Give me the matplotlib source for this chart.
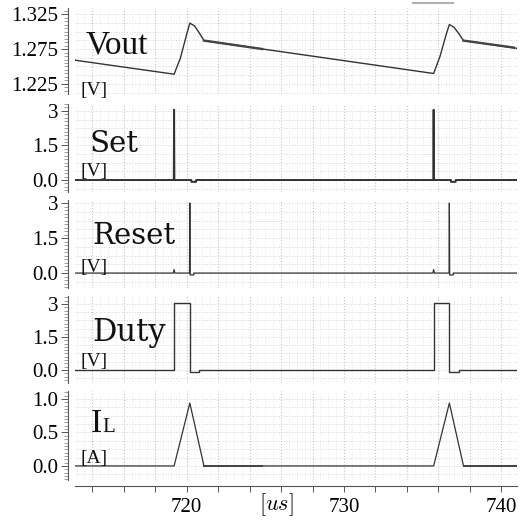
import matplotlib.pyplot as plt
import numpy as np
from matplotlib.ticker import MultipleLocator, FixedLocator, FuncFormatter
from matplotlib.lines import Line2D

plt.rcParams['mathtext.fontset'] = 'cm'
plt.rcParams['font.family'] = ['Liberation Serif', 'DejaVu Serif']

# time [us]
t_vout = [712.9, 719.2, 719.6, 720.0, 720.2, 720.5, 720.8, 721.1,
          735.7, 736.1, 736.5, 736.7, 737.0, 737.3, 737.6, 741.0]
v_vout = [1.259, 1.239, 1.262, 1.296, 1.312, 1.308, 1.298, 1.287,
          1.240, 1.264, 1.296, 1.310, 1.306, 1.297, 1.287, 1.276]
# ringing after each switching event (drawn as a thicker band)
t_vout_ring = [[721.1, 724.8], [737.6, 740.8]]
v_vout_ring = [[1.287, 1.275], [1.287, 1.277]]

t_set = [712.9, 719.18, 719.2, 719.22, 720.3, 720.3, 720.6, 720.6,
         735.68, 735.7, 735.72, 736.8, 736.8, 737.1, 737.1, 741.0]
v_set = [0, 0, 3.05, 0, 0, -0.08, -0.08, 0,
         0, 3.05, 0, 0, -0.08, -0.08, 0, 0]

t_reset = [712.9, 719.15, 719.2, 719.25, 720.18, 720.2, 720.22, 720.45, 720.45,
           735.65, 735.7, 735.75, 736.68, 736.7, 736.72, 736.95, 736.95, 741.0]
v_reset = [0, 0, 0.15, 0, 0, 3.0, -0.08, -0.08, 0,
           0, 0.15, 0, 0, 3.0, -0.08, -0.08, 0, 0]

t_duty = [712.9, 719.2, 719.2, 720.2, 720.2, 720.8, 720.8,
          735.7, 735.7, 736.7, 736.7, 737.3, 737.3, 741.0]
v_duty = [0, 0, 3.05, 3.05, -0.1, -0.1, 0,
          0, 3.05, 3.05, -0.1, -0.1, 0, 0]

t_il = [712.9, 719.2, 720.2, 721.1, 735.7, 736.7, 737.6, 741.0]
v_il = [0, 0, 0.94, 0, 0, 0.94, 0, 0]
t_il_ring = [[721.1, 724.8], [737.6, 741.0]]
v_il_ring = [[0.0, 0.0], [0.0, 0.0]]

names = ['Vout', 'Set', 'Reset', 'Duty', 'I']
units = ['[V]', '[V]', '[V]', '[V]', '[A]']
yticks = [[1.225, 1.275, 1.325], [0, 1.5, 3], [0, 1.5, 3], [0, 1.5, 3], [0, 0.5, 1.0]]
ylabels = [['1.225', '1.275', '1.325'], ['0.0', '1.5', '3'], ['0.0', '1.5', '3'],
           ['0.0', '1.5', '3'], ['0.0', '0.5', '1.0']]

W, H = 521, 524
fig = plt.figure(figsize=(W / 100, H / 100), dpi=100)

# panel boxes in pixels (top, bottom)
boxes = [(8, 94), (104, 192), (200, 288), (296, 383), (391, 480)]
ylims = [(1.2107, 1.3336), (-0.52, 3.30), (-0.64, 3.13), (-0.59, 3.36), (-0.21, 1.12)]
minor_step = [0.005, 0.15, 0.15, 0.15, 0.05]
grid_step = [0.0125, 0.375, 0.375, 0.375, 0.125]
xl, xr = 75, 517

series = [(t_vout, v_vout), (t_set, v_set), (t_reset, v_reset), (t_duty, v_duty), (t_il, v_il)]
lws = [1.0, 1.4, 0.9, 1.0, 0.9]

axes = []
for i, (top, bot) in enumerate(boxes):
    ax = fig.add_axes([xl / W, 1 - bot / H, (xr - xl) / W, (bot - top) / H])
    axes.append(ax)
    ax.set_xlim(712.9, 741.0)
    ax.set_ylim(*ylims[i])
    # grid
    ax.xaxis.set_major_locator(MultipleLocator(2))
    ax.xaxis.set_minor_locator(MultipleLocator(0.5))
    ax.grid(True, which='major', axis='x', color='#c4c4c4', linestyle=':', linewidth=0.8)
    ax.grid(True, which='minor', axis='x', color='#e6e6e6', linestyle=':', linewidth=0.6)
    lo, hi = ylims[i]
    g0 = np.ceil(lo / grid_step[i]) * grid_step[i]
    for gy in np.arange(g0, hi, grid_step[i]):
        ax.axhline(gy, color='#d6d6d6', linestyle=':', linewidth=0.7, zorder=0)

    t, v = series[i]
    ax.plot(t, v, color='#333333', linewidth=lws[i], zorder=3)

    ax.yaxis.set_major_locator(FixedLocator(yticks[i]))
    ax.yaxis.set_minor_locator(MultipleLocator(minor_step[i]))
    ax.tick_params(axis='y', which='major', direction='out', length=5, width=0.7,
                   color='#555555', pad=2, labelsize=15)
    ax.tick_params(axis='y', which='minor', direction='out', length=3, width=0.5,
                   color='#777777')
    ax.set_yticklabels(ylabels[i])
    for s in ['top', 'right']:
        ax.spines[s].set_visible(False)
    ax.spines['left'].set_position(('outward', 5))
    ax.spines['left'].set_color('#555555')
    ax.spines['left'].set_linewidth(0.8)
    if i < 4:
        ax.spines['bottom'].set_visible(False)
        ax.tick_params(axis='x', which='both', bottom=False, labelbottom=False)

for t, v in zip(t_vout_ring, v_vout_ring):
    axes[0].plot(t, v, color='#444444', linewidth=1.7, zorder=3)
for t, v in zip(t_il_ring, v_il_ring):
    axes[4].plot(t, v, color='#444444', linewidth=1.4, zorder=3)

axb = axes[4]
axb.spines['bottom'].set_position(('outward', 4))
axb.spines['bottom'].set_color('#555555')
axb.spines['bottom'].set_linewidth(0.8)
axb.xaxis.set_major_formatter(FuncFormatter(lambda x, p: '%d' % x if round(x) % 10 == 0 else ''))
axb.tick_params(axis='x', which='major', direction='out', length=4, width=0.7,
                color='#555555', labelsize=15, pad=5)
axb.tick_params(axis='x', which='minor', bottom=False)

# panel titles and units (pixel positions)
def ftext(x, y, s, **kw):
    fig.text(x / W, 1 - y / H, s, va='baseline', ha='left', **kw)

ftext(86, 53, 'Vout', fontfamily='Liberation Serif', fontsize=24, color='#111111')
ftext(90, 152, 'Set', fontfamily='DejaVu Serif', fontsize=21, color='#111111')
ftext(92, 244, 'Reset', fontfamily='DejaVu Serif', fontsize=21, color='#111111')
ftext(92, 341, 'Duty', fontfamily='DejaVu Serif', fontsize=22, color='#111111')
ftext(91, 432, 'I', fontfamily='Liberation Serif', fontsize=24, color='#111111')
ftext(102, 432, 'L', fontfamily='Liberation Serif', fontsize=15, color='#111111')
unit_y = [95, 176, 272, 366, 463]
for u, uy in zip(units, unit_y):
    ftext(81, uy, u, fontfamily='Liberation Serif', fontsize=14, color='#111111')

fig.text(276 / W, 1 - 505 / H, r'$[us]$', ha='center', va='center', fontsize=16)

fig.add_artist(Line2D([413 / W, 453 / W], [1 - 3 / H, 1 - 3 / H], color='#b0b0b0', linewidth=1.5))

fig.savefig('out.png', dpi=100)
